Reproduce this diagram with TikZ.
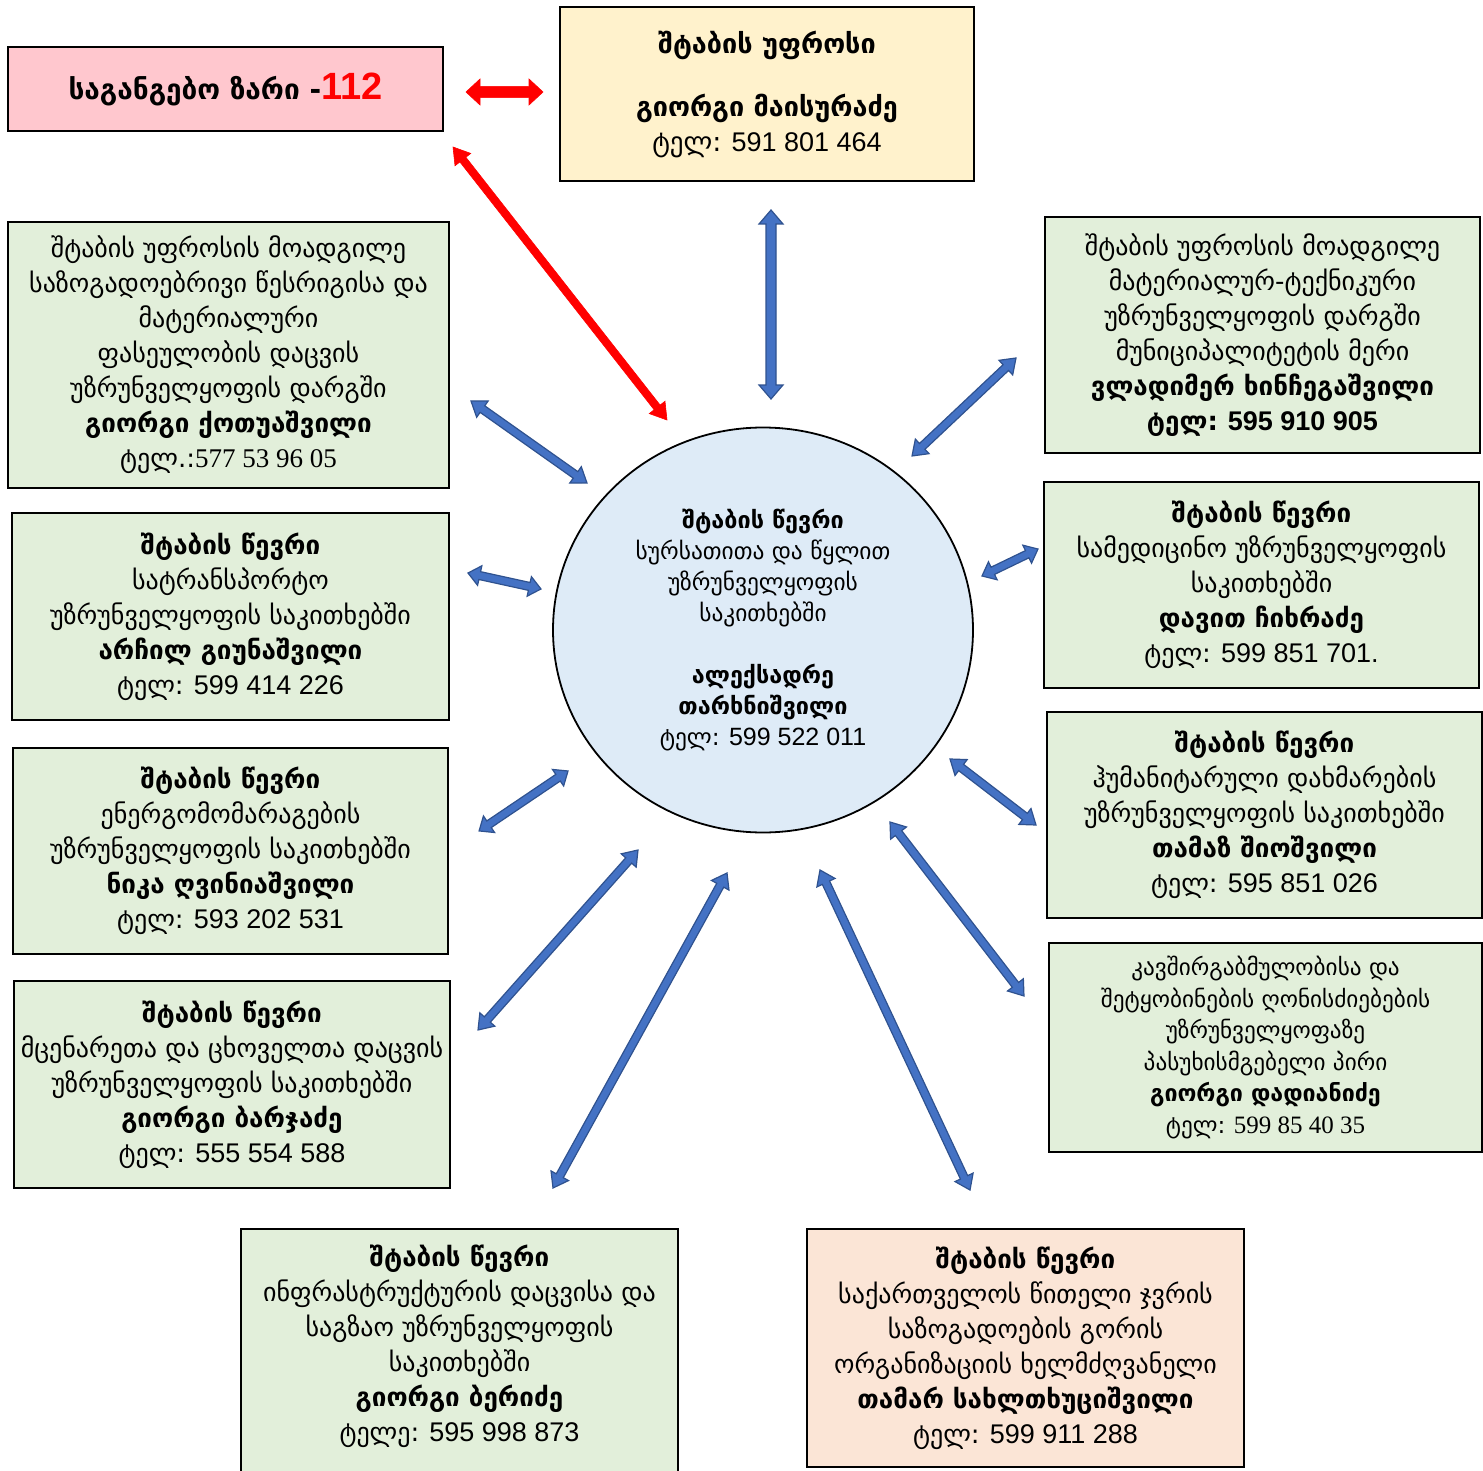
\documentclass[tikz,border=0pt]{standalone}
\usepackage{fontspec}
\setmainfont{DejaVu Sans}
\newfontfamily\arialf{Liberation Sans}
\newfontfamily\serff{Liberation Serif}
\usetikzlibrary{shapes.geometric}
\definecolor{gfill}{HTML}{E2EFDA}
\definecolor{yfill}{HTML}{FFF2CC}
\definecolor{pfill}{HTML}{FFC7CE}
\definecolor{ofill}{HTML}{FBE5D6}
\definecolor{cfill}{HTML}{DEEBF7}
\definecolor{ablue}{HTML}{4472C4}
\definecolor{ablued}{HTML}{2F528F}
% phone numbers
\newcommand\dg[1]{{\arialf\fontsize{13.5}{17.5}\selectfont{} #1}}
\newcommand\ds[1]{{\serff\fontsize{13.5}{17.5}\selectfont{} #1}}
% block double arrow: style, from, to, shaft half, head half, head length (pt)
\newcommand\blockarrow[6]{%
  \pgfpointdiff{\pgfpointanchor{#2}{center}}{\pgfpointanchor{#3}{center}}%
  \pgfgetlastxy{\bdx}{\bdy}%
  \pgfmathsetmacro\blen{veclen(\bdx,\bdy)}%
  \pgfmathsetmacro\bang{atan2(\bdy,\bdx)}%
  \pgfmathsetmacro\bB{\blen-#6}%
  \begin{scope}[shift={(#2)}, rotate=\bang]
    \filldraw[#1] (0pt,0pt) -- (#6pt,#5pt) -- (#6pt,#4pt) -- (\bB pt,#4pt) -- (\bB pt,#5pt)
      -- (\blen pt,0pt) -- (\bB pt,-#5pt) -- (\bB pt,-#4pt) -- (#6pt,-#4pt) -- (#6pt,-#5pt) -- cycle;
  \end{scope}}
\begin{document}
\begin{tikzpicture}[x=0.5pt,y=-0.5pt,
  box/.style={draw=black, line width=0.9pt, inner sep=0pt, align=center,
    font=\fontsize{13}{17.5}\selectfont},
  gbox/.style={box, fill=gfill},
  bluearrow/.style={fill=ablue, draw=ablued, line width=0.6pt, line join=miter},
  redarrow/.style={fill=red, draw=red, line width=0.3pt, line join=miter}]
\useasboundingbox (0,0) rectangle (1483,1471);

\node[box, fill=pfill, minimum width=217.5pt, minimum height=42pt] (call) at (225.5,89)
  {\fontsize{14}{17}\selectfont\bfseries საგანგებო ზარი -\textcolor{red}{\arialf\fontsize{19}{19}\selectfont 112}};
\node[box, fill=yfill, minimum width=207pt, minimum height=87pt] (chief) at (767,94)
  {\fontsize{13.5}{18}\selectfont\bfseries შტაბის უფროსი\\[14pt] \fontsize{13.5}{18}\selectfont\bfseries გიორგი მაისურაძე\\ \fontsize{13.5}{18}\selectfont ტელ:\dg{591 801 464}};

\node[gbox, minimum width=220.5pt, minimum height=133pt] (l1) at (228.5,355)
  {შტაბის უფროსის მოადგილე\\ საზოგადოებრივი წესრიგისა და\\ მატერიალური\\ ფასეულობის დაცვის\\ უზრუნველყოფის დარგში\\ \textbf{გიორგი ქოთუაშვილი}\\ ტელ.:{\serff\fontsize{13.5}{17.5}\selectfont 577 53 96 05}};
\node[gbox, minimum width=217.5pt, minimum height=118pt] (r1) at (1262.5,335)
  {შტაბის უფროსის მოადგილე\\ მატერიალურ-ტექნიკური\\ უზრუნველყოფის დარგში\\ მუნიციპალიტეტის მერი\\ \textbf{ვლადიმერ ხინჩეგაშვილი}\\ \textbf{ტელ:\dg{595 910 905}}};

\node[gbox, minimum width=218.5pt, minimum height=103.5pt] (l2) at (230.5,616.5)
  {\textbf{შტაბის წევრი}\\ სატრანსპორტო\\ უზრუნველყოფის საკითხებში\\ \textbf{არჩილ გიუნაშვილი}\\ ტელ:\dg{599 414 226}};
\node[gbox, minimum width=217.5pt, minimum height=103pt] (r2) at (1261.5,585)
  {\textbf{შტაბის წევრი}\\ სამედიცინო უზრუნველყოფის\\ საკითხებში\\ \textbf{დავით ჩიხრაძე}\\ ტელ:\dg{599 851 701.}};

\node[gbox, minimum width=217.5pt, minimum height=103pt] (l3) at (230.5,851)
  {\textbf{შტაბის წევრი}\\ ენერგომომარაგების\\ უზრუნველყოფის საკითხებში\\ \textbf{ნიკა ღვინიაშვილი}\\ ტელ:\dg{593 202 531}};
\node[gbox, minimum width=217.5pt, minimum height=103pt] (r3) at (1264.5,815)
  {\textbf{შტაბის წევრი}\\ ჰუმანიტარული დახმარების\\ უზრუნველყოფის საკითხებში\\ \textbf{თამაზ შიოშვილი}\\ ტელ:\dg{595 851 026}};

\node[gbox, minimum width=218pt, minimum height=103.5pt] (l4) at (232,1084.5)
  {\textbf{შტაბის წევრი}\\ მცენარეთა და ცხოველთა დაცვის\\ უზრუნველყოფის საკითხებში\\ \textbf{გიორგი ბარჯაძე}\\ ტელ:\dg{555 554 588}};
\node[gbox, minimum width=216.5pt, minimum height=104.5pt, font=\fontsize{11.6}{15.8}\selectfont] (r4) at (1265.5,1047.5)
  {კავშირგაბმულობისა და\\ შეტყობინების ღონისძიებების\\ უზრუნველყოფაზე\\ პასუხისმგებელი პირი\\ \textbf{გიორგი დადიანიძე}\\ ტელ:{\serff\fontsize{12.5}{15.8}\selectfont{} 599 85 40 35}};

\node[gbox, minimum width=218.5pt, minimum height=125.5pt] (b1) at (459.5,1354.5) {};
\node[align=center, inner sep=0pt, font=\fontsize{13}{17.5}\selectfont] (b1t) at (459.5,1346)
  {\textbf{შტაბის წევრი}\\ ინფრასტრუქტურის დაცვისა და\\ საგზაო უზრუნველყოფის\\ საკითხებში\\ \textbf{გიორგი ბერიძე}\\ ტელე:\dg{595 998 873}};
\node[box, fill=ofill, minimum width=218.5pt, minimum height=119pt] (b2) at (1025.5,1348)
  {\textbf{შტაბის წევრი}\\ საქართველოს წითელი ჯვრის\\ საზოგადოების გორის\\ ორგანიზაციის ხელმძღვანელი\\ \textbf{თამარ სახლთხუციშვილი}\\ ტელ:\dg{599 911 288}};

\node[ellipse, draw=black, line width=0.9pt, fill=cfill, minimum width=210pt, minimum height=202.5pt,
  inner sep=0pt, align=center, font=\fontsize{11.7}{15.5}\selectfont] (hub) at (763,630)
  {\textbf{შტაბის წევრი}\\ სურსათითა და წყლით\\ უზრუნველყოფის\\ საკითხებში\\[15.5pt] \textbf{ალექსადრე}\\ \textbf{თარხნიშვილი}\\ ტელ:{\arialf\fontsize{12.5}{15.5}\selectfont{} 599 522 011}};

% arrow end points
\coordinate (ra1) at (466,92);   \coordinate (ra2) at (543,92);
\coordinate (rb1) at (453,147);  \coordinate (rb2) at (667,420);
\coordinate (v1) at (771,210);   \coordinate (v2) at (771,399);
\coordinate (tr1) at (1016,358); \coordinate (tr2) at (912,456);
\coordinate (la1) at (471,401);  \coordinate (la2) at (587,483);
\coordinate (lb1) at (468,573);  \coordinate (lb2) at (541,589);
\coordinate (rb3) at (1038,549); \coordinate (rb4) at (982,576);
\coordinate (lc1) at (568,771);  \coordinate (lc2) at (479,831);
\coordinate (rc1) at (950,759);  \coordinate (rc2) at (1036,825);
\coordinate (ld1) at (638,850);  \coordinate (ld2) at (478,1030);
\coordinate (rd1) at (890,822);  \coordinate (rd2) at (1024,996);
\coordinate (be1) at (727,873);  \coordinate (be2) at (553,1188);
\coordinate (bf1) at (820,870);  \coordinate (bf2) at (970,1190);

\blockarrow{redarrow}{ra1}{ra2}{2.8}{6.5}{7}
\blockarrow{redarrow}{rb1}{rb2}{1.9}{5}{8}
\blockarrow{bluearrow}{v1}{v2}{2.5}{6}{7}
\blockarrow{bluearrow}{tr1}{tr2}{2}{5}{7}
\blockarrow{bluearrow}{la1}{la2}{2}{5}{7}
\blockarrow{bluearrow}{lb1}{lb2}{2}{5}{6}
\blockarrow{bluearrow}{rb3}{rb4}{2}{5}{6}
\blockarrow{bluearrow}{lc1}{lc2}{2}{5}{6}
\blockarrow{bluearrow}{rc1}{rc2}{2}{5}{7}
\blockarrow{bluearrow}{ld1}{ld2}{2}{5}{7}
\blockarrow{bluearrow}{rd1}{rd2}{2}{5}{7}
\blockarrow{bluearrow}{be1}{be2}{2}{5}{7}
\blockarrow{bluearrow}{bf1}{bf2}{2}{5}{7}
\end{tikzpicture}
\end{document}
